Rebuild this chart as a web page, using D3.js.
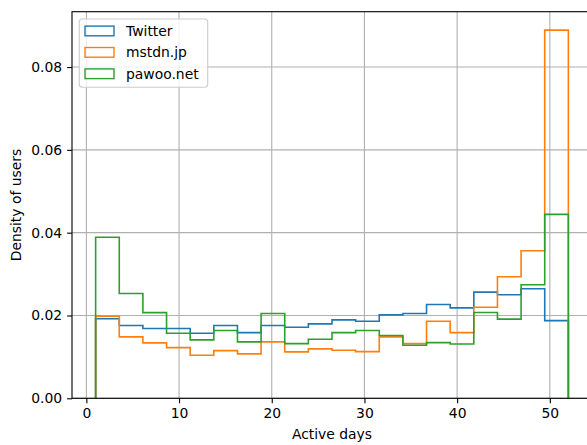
<!DOCTYPE html>
<html><head><meta charset="utf-8">
<script src="https://cdn.jsdelivr.net/npm/d3@7"></script>
<style>body{margin:0;background:#fff}svg{display:block}text{font-family:"DejaVu Sans",sans-serif}</style>
</head><body>
<svg id="c" width="587" height="445"></svg>
<script>
const binStart = 1, binEnd = 52, binCount = 20;
const seriesNames = ["Twitter", "mstdn.jp", "pawoo.net"];
const colors = ["#1f77b4", "#ff7f0e", "#2ca02c"];
const twitter = [0.0192,0.01757,0.01684,0.01684,0.01572,0.01757,0.01587,0.01757,0.01717,0.01797,0.01894,0.01862,0.02015,0.02047,0.02265,0.02184,0.02564,0.02499,0.02644,0.01877];
const mstdn = [0.0198,0.01483,0.01338,0.01225,0.0104,0.01152,0.01072,0.01362,0.0112,0.01193,0.01161,0.01128,0.01483,0.01321,0.01862,0.01587,0.0220,0.02934,0.03563,0.08892];
const pawoo = [0.0389,0.0253,0.0207,0.0157,0.0141,0.01636,0.01362,0.02047,0.01321,0.01427,0.01587,0.01636,0.01515,0.01282,0.01345,0.01313,0.02071,0.01911,0.02741,0.04441];
const xTicks = [0,10,20,30,40,50];
const yTicks = [0,0.02,0.04,0.06,0.08];

const svg = d3.select("#c");
const L = 72, R = 592, T = 11.7, B = 398.3;
const xr = binEnd - binStart, ymax = d3.max(mstdn) * 1.05;
const x = d3.scaleLinear().domain([binStart - 0.05*xr, binEnd + 0.05*xr]).range([L, R]);
const y = d3.scaleLinear().domain([0, ymax]).range([B, T]);
const w = xr / binCount;

// grid
const g = svg.append("g");
g.selectAll(".gx").data(xTicks).join("line").attr("x1", d=>x(d)).attr("x2", d=>x(d)).attr("y1", T).attr("y2", B).attr("stroke", "#b0b0b0").attr("stroke-width", 1.1);
g.selectAll(".gy").data(yTicks).join("line").attr("x1", L).attr("x2", R).attr("y1", d=>y(d)).attr("y2", d=>y(d)).attr("stroke", "#b0b0b0").attr("stroke-width", 1.1);

// histograms
const all = [twitter, mstdn, pawoo];
all.forEach((vals, i) => {
  const pts = [[binStart, 0]];
  vals.forEach((v, k) => { pts.push([binStart + k*w, v]); pts.push([binStart + (k+1)*w, v]); });
  pts.push([binEnd, 0]);
  svg.append("path").attr("d", d3.line().x(p=>x(p[0])).y(p=>y(p[1]))(pts))
    .attr("fill", "none").attr("stroke", colors[i]).attr("stroke-width", 1.6).attr("stroke-linejoin", "miter");
});

// axes
const xa = svg.append("g").attr("transform", `translate(0,${B})`).call(d3.axisBottom(x).tickValues(xTicks).tickSize(4.9).tickPadding(4.9).tickFormat(d3.format("d")));
const ya = svg.append("g").attr("transform", `translate(${L},0)`).call(d3.axisLeft(y).tickValues(yTicks).tickSize(4.9).tickPadding(4.9).tickFormat(d3.format(".2f")));
[xa, ya].forEach(a => {
  a.select(".domain").remove();
  a.selectAll("line").attr("stroke", "#000").attr("stroke-width", 1.1);
  a.selectAll("text").attr("font-size", 13.9).attr("fill", "#000").style("font-family", "DejaVu Sans");
});
// spines
svg.append("rect").attr("x", L).attr("y", T).attr("width", R-L).attr("height", B-T).attr("fill", "none").attr("stroke", "#000").attr("stroke-width", 1.1);

svg.append("text").attr("x", (L+R)/2).attr("y", 439).attr("text-anchor", "middle").attr("font-size", 13.9).text("Active days");
svg.append("text").attr("transform", `translate(21,${(T+B)/2}) rotate(-90)`).attr("text-anchor", "middle").attr("font-size", 13.9).text("Density of users");

// legend
const lg = svg.append("g");
lg.append("rect").attr("x", 79.3).attr("y", 19).attr("width", 128.4).attr("height", 68.3).attr("rx", 3).attr("fill", "#fff").attr("fill-opacity", 0.8).attr("stroke", "#cccccc").attr("stroke-width", 1.1);
seriesNames.forEach((n, i) => {
  const cy = 31 + i*21.4;
  lg.append("rect").attr("x", 85).attr("y", cy-4.9).attr("width", 29).attr("height", 9.7).attr("fill", "none").attr("stroke", colors[i]).attr("stroke-width", 1.4);
  lg.append("text").attr("x", 126).attr("y", cy+5).attr("font-size", 13.9).text(n);
});
</script>
</body></html>
